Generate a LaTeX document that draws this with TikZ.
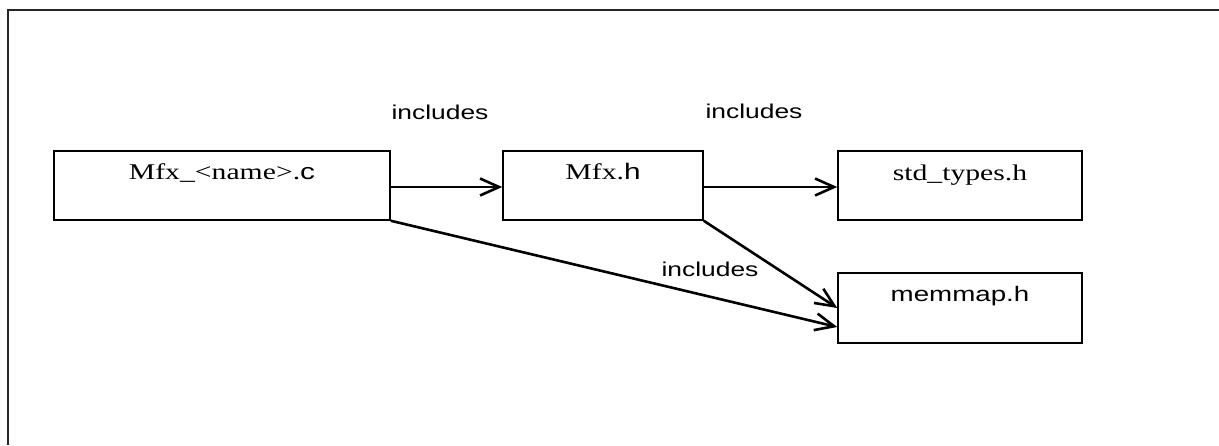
\documentclass[tikz,border=0pt]{standalone}
\usepackage{fontspec}
\setmainfont{Liberation Serif}
\setsansfont{Liberation Sans}
\usetikzlibrary{arrows.meta,calc}
\tikzset{
  filebox/.style={draw=black, line width=1.5pt, rectangle, minimum height=69pt, inner sep=0pt},
  boxtext/.style={anchor=base, inner sep=0pt},
  lbl/.style={anchor=base, inner sep=0pt, font=\sffamily\fontsize{20}{20}\selectfont},
  incl/.style={draw=black, line width=2.6pt, -{Straight Barb[length=19pt,width=17pt,line width=2.6pt]}},
  frame/.style={draw=black!85, line width=2pt}
}
\newcommand{\hs}[1]{\scalebox{1.32}[1]{#1}}
\newcommand{\serifsz}{\fontsize{22.5}{22.5}\selectfont}
\begin{document}
\begin{tikzpicture}[x=1pt,y=-1pt]
\useasboundingbox (0,0) rectangle (1219,445);
\fill[white] (0,0) rectangle (1219,445);
% frame (top and left edges only)
\coordinate (ftl) at (8,10);
\coordinate (ftr) at (1219,10);
\coordinate (fbl) at (8,445);
\draw[frame] (ftr) -- (ftl) -- (fbl);
% boxes
\node[filebox, minimum width=336pt] (c) at (222,185.5) {};
\node[filebox, minimum width=200pt] (mfx) at (603,185.5) {};
\node[filebox, minimum width=244pt] (std) at (960,185.5) {};
\node[filebox, minimum width=244pt, minimum height=70pt] (mem) at (960,308) {};
% box texts
\node[boxtext] (ct) at ($(c.north)+(0,29)$) {\hs{\serifsz Mfx\_<name>.\textsf{c}}};
\node[boxtext] (mfxt) at ($(mfx.north)+(0,29)$) {\hs{\serifsz Mfx.\textsf{h}}};
\node[boxtext] (stdt) at ($(std.north)+(0,30)$) {\hs{\serifsz std\_types.h}};
\node[boxtext] (memt) at ($(mem.north)+(0,29)$) {\hs{\sffamily\fontsize{21}{21}\selectfont memmap.h}};
% connectors
\coordinate (c1) at ($(c.east)+(0,1.5)$);
\coordinate (m1) at ($(mfx.west)+(0,1.5)$);
\coordinate (m2) at ($(mfx.east)+(0,1.5)$);
\coordinate (s1) at ($(std.west)+(0,1.5)$);
\coordinate (memlow) at ($(mem.west)+(0,19)$);
\draw[incl] (c1) -- (m1);
\draw[incl] (m2) -- (s1);
\draw[incl] (mfx.south east) -- (mem.west);
\draw[incl] (c.south east) -- (memlow);
% labels
\node[lbl] (l1) at (440,119) {\hs{includes}};
\node[lbl] (l2) at (754,118) {\hs{includes}};
\node[lbl] (l3) at (710,276) {\hs{includes}};
\end{tikzpicture}
\end{document}
